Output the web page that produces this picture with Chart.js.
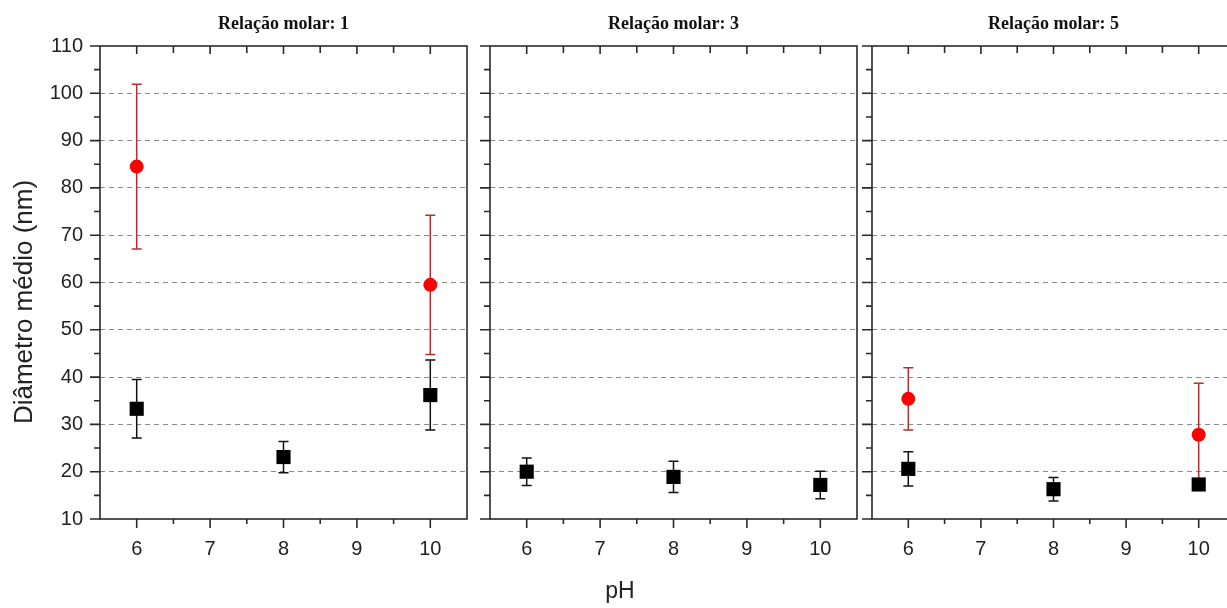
<!DOCTYPE html>
<html>
<head>
<meta charset="utf-8">
<script src="https://cdn.jsdelivr.net/npm/chart.js@4.4.0/dist/chart.umd.min.js"></script>
<style>
body {margin:0; background:#fff; overflow:hidden; width:1227px; height:608px; position:relative;}
canvas {position:absolute; top:0;}
#phID {position:absolute; left:620px; top:590px; transform:translate(-50%,-50%); font:23px Arial,"Liberation Sans",sans-serif; color:#222;}
</style>
</head>
<body>
<canvas id="c1ID" width="477" height="608" style="left:0px"></canvas>
<canvas id="c2ID" width="427" height="608" style="left:440px"></canvas>
<canvas id="c3ID" width="423" height="608" style="left:822px"></canvas>
<div id="phID">pH</div>

<script>
// values
var pHAll=[6,8,10];
var pHRed=[6,10];
var panelTitles=['Relação molar: 1','Relação molar: 3','Relação molar: 5'];
var yTitle='Diâmetro médio (nm)';
var black1=[33.3,23.1,36.2];
var black1Err=[6.2,3.3,7.4];
var red1=[84.5,59.5];
var red1Err=[17.4,14.7];
var black3=[20.0,18.9,17.2];
var black3Err=[2.9,3.3,2.9];
var black5=[20.6,16.3,17.3];
var black5Err=[3.6,2.5,1.0];
var red5=[35.4,27.8];
var red5Err=[6.6,10.9];
var xTicks=[6,7,8,9,10];
var xMinor=[6.5,7.5,8.5,9.5];
var yTicks=[10,20,30,40,50,60,70,80,90,100,110];
var yMinor=[15,25,35,45,55,65,75,85,95,105];

Chart.defaults.font.family='Arial, "Liberation Sans", sans-serif';
Chart.defaults.color='#222';

function pts(xs,ys) {
 return xs.map(function(x,i){return {x:x,y:ys[i]};});
}
function blackSet(vals,errs) {
 return {data:pts(pHAll,vals), errors:errs, errColor:'#111', pointStyle:'rect', pointRadius:10,
  backgroundColor:'#000', borderColor:'#000', borderWidth:0, showLine:false};
}
function redSet(vals,errs) {
 return {data:pts(pHRed,vals), errors:errs, errColor:'#b03030', pointStyle:'circle', pointRadius:7,
  backgroundColor:'#ff0000', borderColor:'#ff0000', borderWidth:0, showLine:false};
}

function line(ctx,x1,y1,x2,y2) {ctx.moveTo(x1,y1); ctx.lineTo(x2,y2);}

var framePlugin={
 id:'frame',
 beforeDatasetsDraw:function(chart) {
  var ctx=chart.ctx, ys=chart.scales.y;
  chart.data.datasets.forEach(function(ds,di) {
   var meta=chart.getDatasetMeta(di);
   ctx.save();
   ctx.strokeStyle=ds.errColor; ctx.lineWidth=1.5;
   ctx.beginPath();
   meta.data.forEach(function(p,i) {
    var yT=ys.getPixelForValue(ds.data[i].y+ds.errors[i]);
    var yB=ys.getPixelForValue(ds.data[i].y-ds.errors[i]);
    line(ctx,p.x,yT,p.x,yB);
    line(ctx,p.x-5,yT,p.x+5,yT);
    line(ctx,p.x-5,yB,p.x+5,yB);
   });
   ctx.stroke();
   ctx.restore();
  });
 },
 afterDraw:function(chart) {
  var ctx=chart.ctx, a=chart.chartArea, xs=chart.scales.x, ys=chart.scales.y;
  ctx.save();
  ctx.strokeStyle='#2a2a2a'; ctx.lineWidth=1.6;
  ctx.strokeRect(a.left,a.top,a.right-a.left,a.bottom-a.top);
  ctx.beginPath();
  yTicks.forEach(function(v){var p=ys.getPixelForValue(v); line(ctx,a.left-10,p,a.left,p);});
  yMinor.forEach(function(v){var p=ys.getPixelForValue(v); line(ctx,a.left-6,p,a.left,p);});
  xTicks.forEach(function(v){var p=xs.getPixelForValue(v); line(ctx,p,a.bottom,p,a.bottom+9); line(ctx,p,a.top,p,a.top+8);});
  xMinor.forEach(function(v){var p=xs.getPixelForValue(v); line(ctx,p,a.bottom,p,a.bottom+5); line(ctx,p,a.top,p,a.top+7);});
  ctx.stroke();
  ctx.fillStyle='#111';
  ctx.font='bold 18px "Liberation Serif", "Times New Roman", serif';
  ctx.textAlign='center'; ctx.textBaseline='middle';
  ctx.fillText(chart.options.panelTitle,(a.left+a.right)/2,24);
  if (chart.options.showYTitle) {
   ctx.translate(25,302);
   ctx.rotate(-Math.PI/2);
   ctx.fillStyle='#222';
   ctx.font='26px Arial, "Liberation Sans", sans-serif';
   ctx.fillText(yTitle,0,0);
  }
  ctx.restore();
 }
};

function makePanel(id,title,datasets,showY) {
 return new Chart(document.getElementById(id),{
  type:'scatter',
  data:{datasets:datasets},
  plugins:[framePlugin],
  options:{
   panelTitle:title, showYTitle:showY,
   responsive:false, animation:false, events:[], devicePixelRatio:1,
   layout:{padding:{top:46,right:0,left:0,bottom:0}},
   plugins:{legend:{display:false}, title:{display:false}, tooltip:{enabled:false}},
   scales:{
    x:{type:'linear', min:5.5, max:10.5,
     afterBuildTicks:function(s){s.ticks=xTicks.map(function(v){return {value:v};});},
     afterFit:function(s){s.height=89;},
     grid:{display:false}, border:{display:false},
     ticks:{font:{size:20}, padding:10, color:'#222'}},
    y:{type:'linear', min:10, max:110,
     afterBuildTicks:function(s){s.ticks=yTicks.map(function(v){return {value:v};});},
     afterFit:function(s){s.width=showY?100:50;},
     grid:{drawTicks:false, lineWidth:1,
      color:function(c){return (c.tick && (c.tick.value==10 || c.tick.value==110)) ? 'rgba(0,0,0,0)' : '#8a8a8a';}},
     border:{display:false, dash:[5,4]},
     ticks:{display:showY, font:{size:20}, padding:17, color:'#222'}}
   }
  }
 });
}

makePanel('c1ID',panelTitles[0],[blackSet(black1,black1Err),redSet(red1,red1Err)],true);
makePanel('c2ID',panelTitles[1],[blackSet(black3,black3Err)],false);
makePanel('c3ID',panelTitles[2],[blackSet(black5,black5Err),redSet(red5,red5Err)],false);
</script>
</body>
</html>
